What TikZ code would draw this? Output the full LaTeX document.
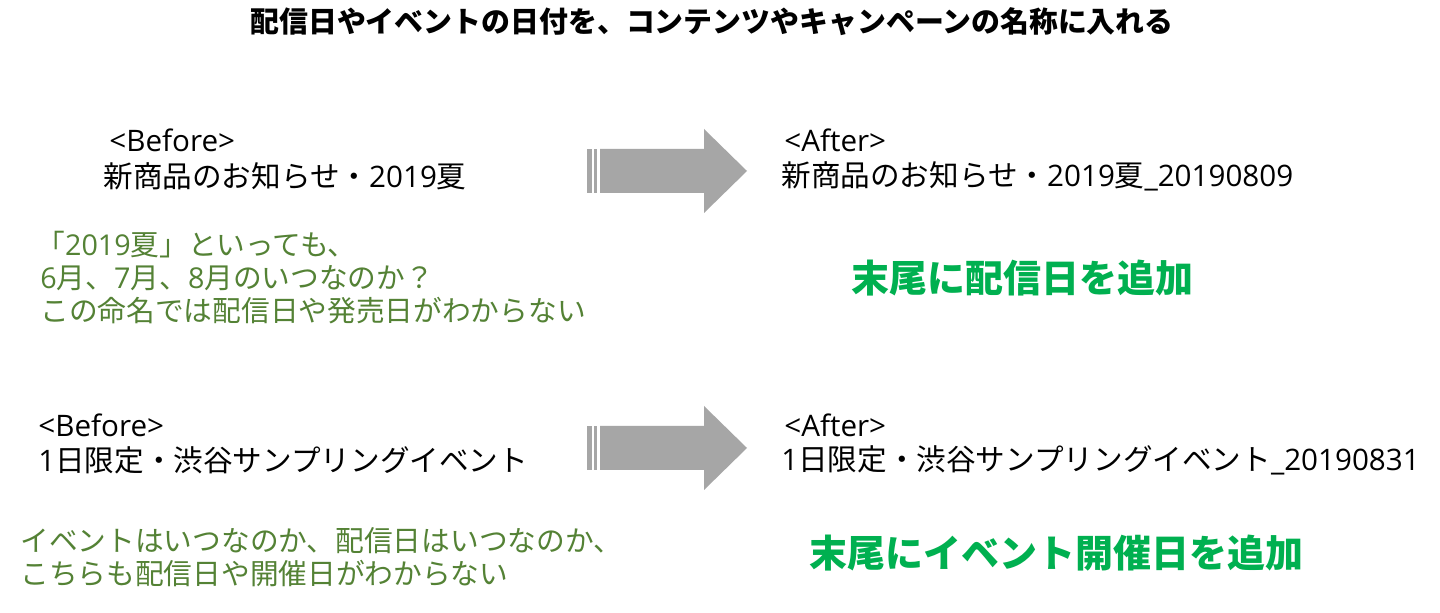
\documentclass[tikz,border=0pt]{standalone}
\usepackage{fontspec}
\setmainfont{Noto Sans CJK JP}
\newfontfamily\lat{Open Sans}
\definecolor{olive}{HTML}{548235}
\definecolor{brightgreen}{HTML}{00B050}
\definecolor{arrowgray}{HTML}{A6A6A6}
\begin{document}
\begin{tikzpicture}[x=0.5pt,y=-0.5pt,
  txt/.style={inner sep=0pt,anchor=west,font=\fontsize{14.8pt}{16pt}\selectfont,text=black},
  note/.style={inner sep=0pt,anchor=west,font=\fontsize{14.35pt}{16pt}\selectfont,text=olive},
  result/.style={inner sep=0pt,font=\fontsize{19pt}{22pt}\selectfont\bfseries,text=brightgreen},
  title/.style={inner sep=0pt,font=\fontsize{14.45pt}{16pt}\selectfont\bfseries,text=black},
  fatarrow/.pic={
    \fill[arrowgray] (-0,-22) rectangle (5,22);
    \fill[arrowgray] (7,-22) rectangle (10,22);
    \fill[arrowgray] (13,-22) -- (117,-22) -- (117,-42) -- (160,0) -- (117,42) -- (117,22) -- (13,22) -- cycle;
  }]
\useasboundingbox (0,0) rectangle (1440,613);
\fill[white] (0,0) rectangle (1440,613);

\node[title] (t) at (712,22) {配信日やイベントの日付を、コンテンツやキャンペーンの名称に入れる};

% row 1
\node[txt] (b1) at (109,140) {{\lat <Before>}};
\node[txt] (b1n) at (103,176) {新商品のお知らせ・{\lat 2019}夏};
\pic at (587,171) {fatarrow};
\node[txt] (a1) at (784,140) {{\lat <After>}};
\node[txt] (a1n) at (781,176) {新商品のお知らせ・{\lat 2019}夏{\lat \_20190809}};
\node[note] (c1a) at (36,245) {「{\lat 2019}夏」といっても、};
\node[note] (c1b) at (40,278) {{\lat 6}月、{\lat 7}月、{\lat 8}月のいつなのか？};
\node[note] (c1c) at (40,311) {この命名では配信日や発売日がわからない};
\node[result] (r1) at (1022,278) {末尾に配信日を追加};

% row 2
\node[txt] (b2) at (38,425) {{\lat <Before>}};
\node[txt] (b2n) at (38,460) {{\lat 1}日限定・渋谷サンプリングイベント};
\pic at (587,448) {fatarrow};
\node[txt] (a2) at (784,425) {{\lat <After>}};
\node[txt] (a2n) at (781,460) {{\lat 1}日限定・渋谷サンプリングイベント{\lat \_20190831}};
\node[note] (c2a) at (20,541) {イベントはいつなのか、配信日はいつなのか、};
\node[note] (c2b) at (20,574) {こちらも配信日や開催日がわからない};
\node[result] (r2) at (1056,553) {末尾にイベント開催日を追加};
\end{tikzpicture}
\end{document}
